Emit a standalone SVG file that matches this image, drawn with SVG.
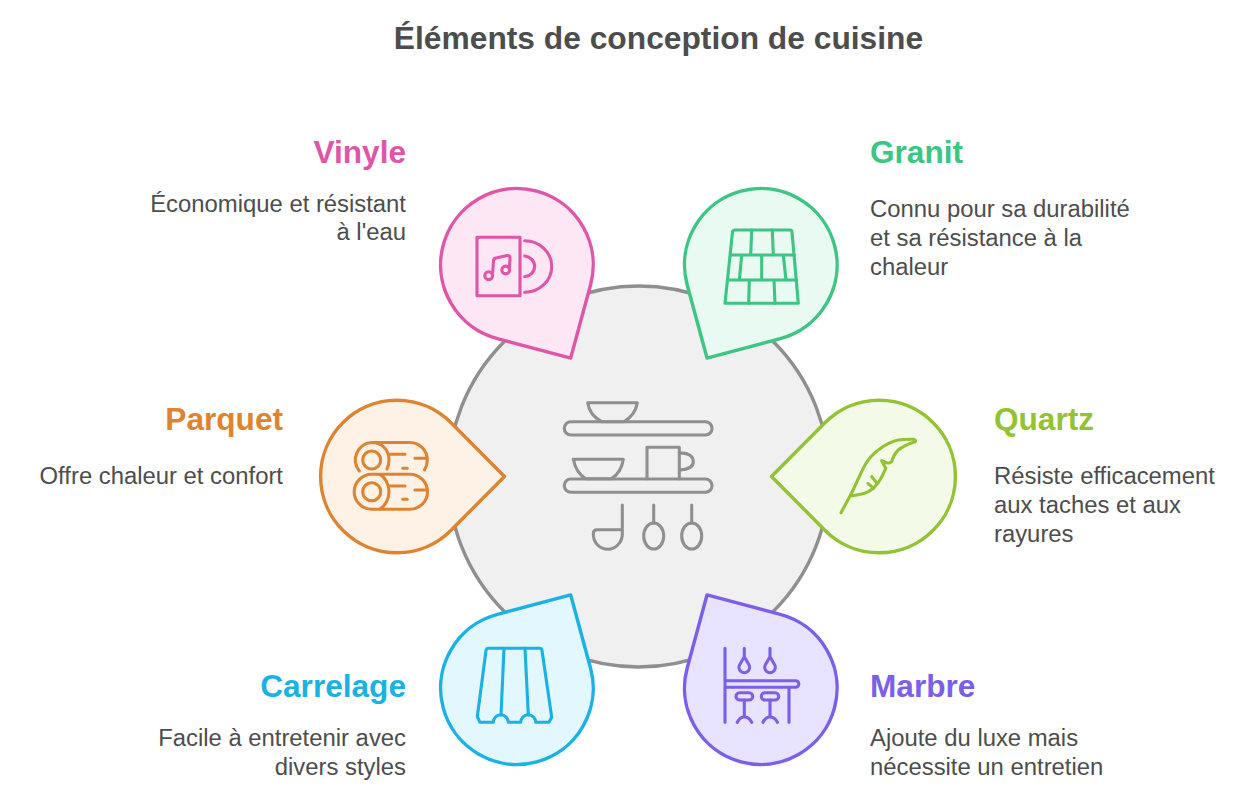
<svg xmlns="http://www.w3.org/2000/svg" width="1257" height="800" viewBox="0 0 1257 800">
<style>
text{font-family:"Liberation Sans",Arial,sans-serif;transform:translateY(.5px)}
.t{font-size:31.75px;font-weight:700;fill:#4d4d4d;text-anchor:middle}
.h{font-size:31.6px;font-weight:700}
.b{font-size:23.85px;fill:#4d4d4d}
.e{text-anchor:end}
.i{fill:none;stroke-width:3.1;stroke-linecap:round;stroke-linejoin:round}
.p{stroke-width:3.4;stroke-linejoin:round}
.vinyle .p{fill:#fde7f5;stroke:#e055a8}.vinyle .i{stroke:#e055a8}.vinyle .h{fill:#e055a8}
.granit .p{fill:#e8faf2;stroke:#3cc583}.granit .i{stroke:#3cc583}.granit .h{fill:#3cc583}
.parquet .p{fill:#fef1e5;stroke:#de8431}.parquet .i{stroke:#de8431}.parquet .h{fill:#de8431}
.quartz .p{fill:#f3fae7;stroke:#93c332}.quartz .i{stroke:#93c332}.quartz .h{fill:#93c332}
.carrelage .p{fill:#e3f7fe;stroke:#1ab1e5}.carrelage .i{stroke:#1ab1e5}.carrelage .h{fill:#1ab1e5}
.marbre .p{fill:#e8e3ff;stroke:#7b5fe8}.marbre .i{stroke:#7b5fe8}.marbre .h{fill:#7b5fe8}
</style>
<defs><path id="drop" d="M108 0L54.6 -53.7A76.3 76.3 0 1 0 54.6 53.7Z"/></defs>
<text class="t" x="658.5" y="48">Éléments de conception de cuisine</text>
<g id="centre">
<circle cx="638.75" cy="476.5" r="190.5" fill="#f0f0f0" stroke="#8f8f8f" stroke-width="3.4"/>
<g class="i" stroke="#8f8f8f">
<rect x="564.3" y="421.7" width="147.7" height="13.3" rx="6.6"/>
<path d="M587.7 402.7H637.3C636 412 630 418 624 421.7H601.7C595 418 589 412 587.7 402.7Z"/>
<rect x="564.3" y="479" width="147.7" height="13.3" rx="6.6"/>
<path d="M573.3 459.3H623.3C622 468 618 475 611 478.8H586C579 475 575 468 573.3 459.3Z"/>
<path d="M647 478.8V447.3H679.3V478.8M679.3 453.3C689 452.3 693.3 457 693.3 461.7C693.3 466 689 469.5 679.3 470"/>
<path d="M622.3 505V534C622.3 543 615 549.3 608 549.3C600 549.3 593.3 543 593.3 534C593.3 531 595 529.7 597 529.7H622.3"/>
<path d="M653.7 505V523"/><ellipse cx="653.7" cy="536" rx="10" ry="13"/>
<path d="M691.7 505V523"/><ellipse cx="691.7" cy="536" rx="10" ry="13"/>
</g>
</g>
<g id="vinyle" class="vinyle">
<use class="p" href="#drop" transform="translate(516.7 264.5) rotate(60)"/>
<g class="i">
<rect x="477" y="237.3" width="43" height="58.4"/>
<path d="M524.7 240.7A27 25.8 0 0 1 524.7 292.3M524.7 256A11 10.4 0 0 1 524.7 276.7"/>
<circle cx="488.7" cy="275.7" r="3.9"/><circle cx="505.7" cy="270" r="3.9"/>
<path d="M492.5 275L493.5 260.5Q493.7 258.5 496 258L507 255.5Q510 255.2 510 258L509.5 269.5"/>
</g>
<text class="h e" x="406" y="162">Vinyle</text>
<text class="b e"><tspan x="406" y="211">Économique et résistant</tspan><tspan x="406" y="239">à l'eau</tspan></text>
</g>
<g id="granit" class="granit">
<use class="p" href="#drop" transform="translate(761 264.5) rotate(120)"/>
<g class="i">
<path d="M735 230H790Q791.7 230 792 232L798.3 303.3H725L732.5 232Q733 230 735 230Z"/>
<path d="M731 255H794.5M728.3 280H796.5M751.7 230L750.7 255M772.3 230L773.3 255M741.7 255L739.3 280M761.7 255V280M783.3 255L786 280M749.3 280L748.7 303.3M774 280L775 303.3"/>
</g>
<text class="h" x="870" y="162">Granit</text>
<text class="b"><tspan x="870" y="216">Connu pour sa durabilité</tspan><tspan x="870" y="245">et sa résistance à la</tspan><tspan x="870" y="274">chaleur</tspan></text>
</g>
<g id="parquet" class="parquet">
<use class="p" href="#drop" transform="translate(396.5 476.5)"/>
<g class="i">
<circle cx="371.7" cy="460" r="9"/>
<path d="M359.3 471A17.5 17.5 0 0 1 371.7 442.5H410A17.5 17.5 0 0 1 427.3 460Q427.3 465 424.5 470M371.7 442.5C382 442.5 389 450 389 460Q389 465 387 469"/>
<path d="M390 454.3H405M415 458.3H426.7M402.7 468.3H407.3"/>
<circle cx="371.7" cy="491.7" r="9"/>
<path d="M410 474.2H371.7A17.5 17.5 0 0 0 371.7 509.2H410A17.5 17.5 0 0 0 410 474.2Z"/>
<path d="M380 474.6C385 477 389 484 389 491.7C389 499 385 506 380 509"/>
<path d="M390 486H405M415 490H426.7M402.7 499.3H407.3"/>
</g>
<text class="h e" x="283" y="429">Parquet</text>
<text class="b e" x="283" y="483">Offre chaleur et confort</text>
</g>
<g id="quartz" class="quartz">
<use class="p" href="#drop" transform="translate(879.5 476.5) rotate(180)"/>
<g class="i">
<path d="M841 512.7L850 496C855 487 860 474 865 465C869 458 873 454 878.3 450C884 445.5 891 441.5 898.3 440Q906 439 913.3 439.3Q916.5 440.5 915 441.7C908 444 903 446 898.3 450C895 453 893 457 891.7 461.7Q889 463.5 886.7 462.7L881.7 460.7L885.7 468.3C884 472 882 477 880 480C877 485 873 489 868.3 491.7C863 494.5 856 495.5 850 496"/>
<path d="M868 483.3L873.7 488.3M871.7 476.7L876.7 482.7"/>
</g>
<text class="h" x="994" y="429">Quartz</text>
<text class="b"><tspan x="994" y="483">Résiste efficacement</tspan><tspan x="994" y="512">aux taches et aux</tspan><tspan x="994" y="541">rayures</tspan></text>
</g>
<g id="carrelage" class="carrelage">
<use class="p" href="#drop" transform="translate(516.7 688.5) rotate(-60)"/>
<g class="i">
<path d="M488.5 648.3H540Q541.7 648.3 542 650.5L551.7 717.3L549 722.3H535.7A7.5 7.5 0 0 0 520.7 722.3H508.3A7.5 7.5 0 0 0 493.3 722.3H480L477.3 716.7L486 650.5Q486.5 648.3 488.5 648.3Z"/>
<path d="M504 648.3L501 715M525 648.3L528.3 715"/>
</g>
<text class="h e" x="406" y="696">Carrelage</text>
<text class="b e"><tspan x="406" y="745">Facile à entretenir avec</tspan><tspan x="406" y="774">divers styles</tspan></text>
</g>
<g id="marbre" class="marbre">
<use class="p" href="#drop" transform="translate(761 688.5) rotate(-120)"/>
<g class="i">
<path d="M725 648.3V722.3M725 680.7H795.5A3.3 3.3 0 0 1 795.5 687.3H725M789 687.3V722.3"/>
<path d="M744.3 648.3V656.7L739.8 664.5A5.3 5.3 0 1 0 748.8 664.5L744.3 656.7Z"/>
<path d="M770 648.3V656.7L765.5 664.5A5.3 5.3 0 1 0 774.5 664.5L770 656.7Z"/>
<rect x="736" y="692.7" width="16.7" height="7.3" rx="3.6"/><rect x="761.3" y="692.7" width="17.4" height="7.3" rx="3.6"/>
<path d="M744.3 700V716.7M737.3 722.3Q740 717 744.3 716.7Q749 717 751.7 722.3M770 700V716.7M763 722.3Q765.7 717 770 716.7Q774.7 717 777.4 722.3"/>
</g>
<text class="h" x="870" y="696">Marbre</text>
<text class="b"><tspan x="870" y="745">Ajoute du luxe mais</tspan><tspan x="870" y="774">nécessite un entretien</tspan></text>
</g>
</svg>
